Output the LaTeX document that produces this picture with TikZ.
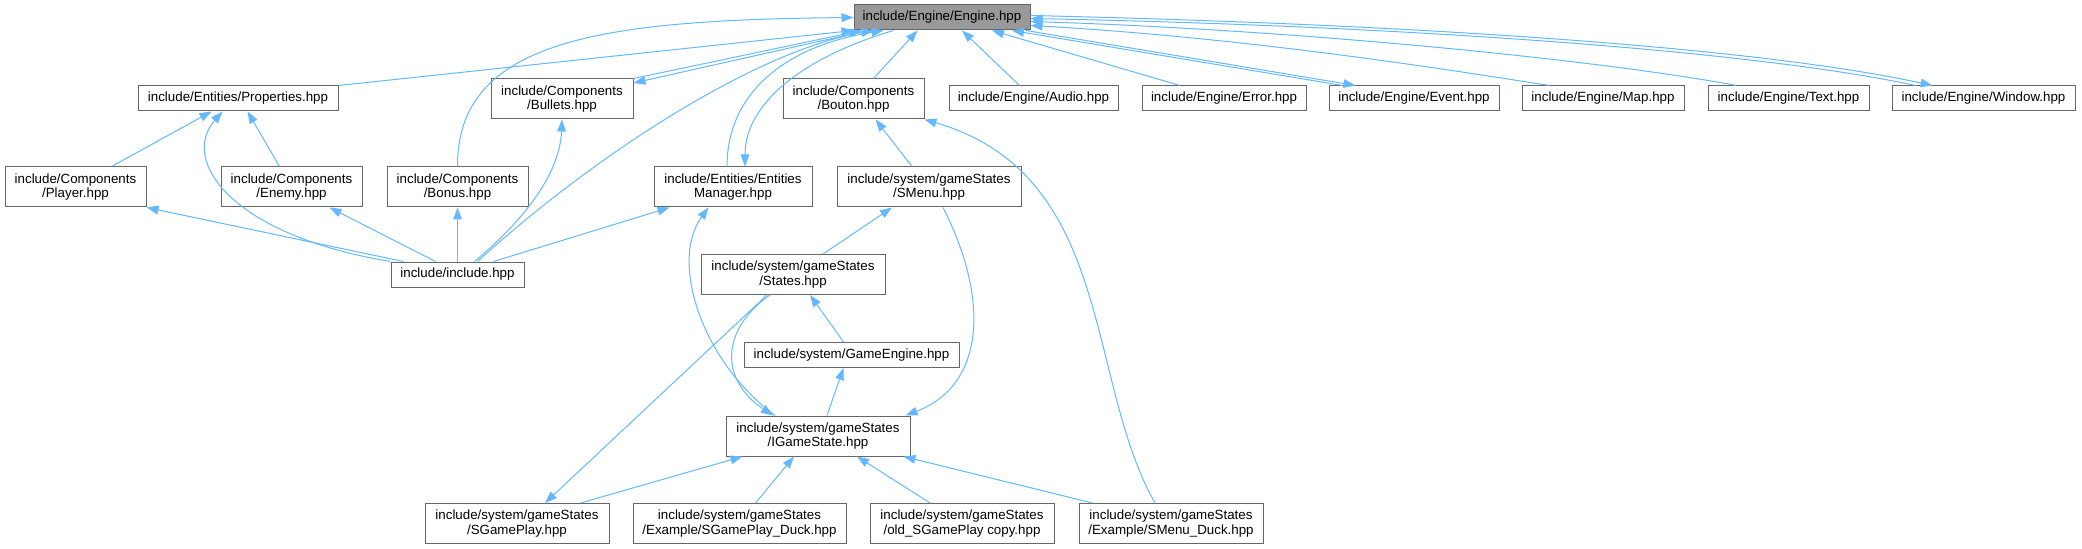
\documentclass[tikz,border=0pt]{standalone}
\usepackage{fontspec}
\setmainfont{Liberation Sans}
\usetikzlibrary{arrows.meta,calc}
\definecolor{edgeblue}{HTML}{63B8FF}
\definecolor{boxgray}{HTML}{666666}
\definecolor{rootfill}{HTML}{999999}

\begin{document}
\begin{tikzpicture}[x=0.75pt, y=-0.75pt, >={Triangle[length=9pt,width=6.5pt]},
    every node/.style={font=\fontsize{10}{11}\selectfont},
    file/.style={draw=boxgray, line width=0.75pt, fill=white, inner sep=0pt, align=center, minimum height=18.75pt},
    twoline/.style={minimum height=30pt},
    root/.style={file, fill=rootfill},
    dep/.style={draw=edgeblue, line width=0.75pt, ->}]
    \useasboundingbox (0,0) rectangle (2082,549);

    \node[root, minimum width=132pt] (engine) at (942,17.5) {include/Engine/Engine.hpp};

    \node[file, minimum width=150pt] (props) at (238,98.5) {include/Entities/Properties.hpp};
    \node[file, twoline, minimum width=106.5pt] (bullets) at (562,99) {include/Components\\/Bullets.hpp};
    \node[file, twoline, minimum width=105.75pt] (bouton) at (853.5,99) {include/Components\\/Bouton.hpp};
    \node[file, minimum width=126.75pt] (audio) at (1033.5,98.5) {include/Engine/Audio.hpp};
    \node[file, minimum width=123pt] (error) at (1224,98.5) {include/Engine/Error.hpp};
    \node[file, minimum width=127.5pt] (event) at (1414,98.5) {include/Engine/Event.hpp};
    \node[file, minimum width=121.5pt] (map) at (1603,98.5) {include/Engine/Map.hpp};
    \node[file, minimum width=120.75pt] (text) at (1788.5,98.5) {include/Engine/Text.hpp};
    \node[file, minimum width=137.25pt] (window) at (1983.5,98.5) {include/Engine/Window.hpp};

    \node[file, twoline, minimum width=105.75pt] (player) at (75.5,187) {include/Components\\/Player.hpp};
    \node[file, twoline, minimum width=105.75pt] (enemy) at (291.5,187) {include/Components\\/Enemy.hpp};
    \node[file, twoline, minimum width=105.75pt] (bonus) at (457.5,187) {include/Components\\/Bonus.hpp};
    \node[file, twoline, minimum width=118.5pt] (entman) at (733,187) {include/Entities/Entities\\Manager.hpp};
    \node[file, twoline, minimum width=138pt] (smenu) at (929,187) {include/system/gameStates\\/SMenu.hpp};

    \node[file, minimum width=99.75pt] (incl) at (457.5,274.5) {include/include.hpp};
    \node[file, twoline, minimum width=138pt] (states) at (793,274.5) {include/system/gameStates\\/States.hpp};
    \node[file, minimum width=161.25pt] (geng) at (851.5,355) {include/system/GameEngine.hpp};
    \node[file, twoline, minimum width=138pt] (igs) at (818,436) {include/system/gameStates\\/IGameState.hpp};

    \node[file, twoline, minimum width=138pt] (sgp) at (517,523.5) {include/system/gameStates\\/SGamePlay.hpp};
    \node[file, twoline, minimum width=159.75pt] (sgpd) at (739.5,523.5) {include/system/gameStates\\/Example/SGamePlay\_Duck.hpp};
    \node[file, twoline, minimum width=138pt] (old) at (962,523.5) {include/system/gameStates\\/old\_SGamePlay copy.hpp};
    \node[file, twoline, minimum width=138pt] (smd) at (1171,523.5) {include/system/gameStates\\/Example/SMenu\_Duck.hpp};

    % links into Engine.hpp
    \draw[dep] (props.north east) -- (engine.south west);
    \draw[dep] (bonus.north) .. controls (457,40) and (600,20) .. (engine.west);
    \draw[dep] (bullets.north east) -- ($(engine.south west)+(8,0)$);
    \draw[dep] ($(engine.south west)+(14,0)$) -- ($(bullets.east)+(0,-16)$);
    \draw[dep] ($(incl.north)+(20,0)$) .. controls (600,150) and (760,50) .. ($(engine.south west)+(20,0)$);
    \draw[dep] ($(entman.north)+(-6,0)$) .. controls (727,90) and (790,45) .. ($(engine.south west)+(30,0)$);
    \draw[dep] ($(engine.south west)+(40,0)$) .. controls (810,55) and (745,100) .. ($(entman.north)+(12,0)$);
    \draw[dep] ($(bouton.north)+(20,0)$) -- ($(engine.south west)+(64,0)$);
    \draw[dep] ($(audio.north)+(-14,0)$) -- ($(engine.south)+(20,0)$);
    \draw[dep] ($(error.north)+(-44,0)$) -- ($(engine.south)+(50,0)$);
    \draw[dep] ($(event.north west)+(14,0)$) -- ($(engine.south)+(70,0)$);
    \draw[dep] ($(engine.south)+(84,0)$) -- ($(event.north west)+(27,0)$);
    \draw[dep] ($(map.north west)+(28,0)$) .. controls (1450,70) and (1250,38) .. ($(engine.east)+(0,8)$);
    \draw[dep] ($(text.north west)+(29,0)$) .. controls (1600,60) and (1300,30) .. ($(engine.east)+(0,4)$);
    \draw[dep] ($(window.north west)+(24,0)$) .. controls (1750,50) and (1400,26) .. ($(engine.east)+(0,1)$);
    \draw[dep] ($(engine.east)+(0,-2)$) .. controls (1400,24) and (1750,46) .. ($(window.north west)+(41,0)$);

    % components and include.hpp
    \draw[dep] ($(player.north)+(36,0)$) -- ($(props.south west)+(74,0)$);
    \draw[dep] ($(enemy.north)+(-12,0)$) -- ($(props.south west)+(110,0)$);
    \draw[dep] (incl.north west) .. controls (230,235) and (180,160) .. ($(props.south west)+(85,0)$);
    \draw[dep] ($(incl.north west)+(13,0)$) -- (player.south east);
    \draw[dep] ($(incl.north)+(-22,0)$) -- ($(enemy.south)+(38,0)$);
    \draw[dep] (incl.north) -- (bonus.south);
    \draw[dep] ($(incl.north)+(17,0)$) .. controls (530,215) and (560,170) .. (bullets.south);
    \draw[dep] ($(incl.north)+(36,0)$) -- ($(entman.south west)+(16,0)$);

    % game states
    \draw[dep] ($(smenu.north)+(-17,0)$) -- ($(bouton.south)+(22,0)$);
    \draw[dep] ($(smd.north)+(-16,0)$) .. controls (1085,380) and (1115,175) .. (bouton.south east);
    \draw[dep] ($(states.north)+(30,0)$) -- ($(smenu.south)+(-37,0)$);
    \draw[dep] ($(smenu.south)+(14,0)$) .. controls (990,300) and (985,385) .. ($(igs.north east)+(-5,0)$);
    \draw[dep] ($(geng.north)+(-8,0)$) -- ($(states.south)+(17,0)$);
    \draw[dep] ($(igs.north)+(9,0)$) -- ($(geng.south)+(-8,0)$);
    \draw[dep] ($(states.south)+(-23,0)$) .. controls (720,330) and (720,380) .. ($(igs.north)+(-45,0)$);
    \draw[dep] ($(igs.north)+(-43,0)$) .. controls (700,360) and (670,260) .. ($(entman.south west)+(55,0)$);
    \draw[dep] ($(states.south)+(-26,0)$) -- ($(sgp.north)+(28,0)$);
    \draw[dep] ($(sgp.north east)+(-29,0)$) -- ($(igs.south west)+(17,0)$);
    \draw[dep] ($(sgpd.north)+(16,0)$) -- ($(igs.south)+(-24,0)$);
    \draw[dep] ($(old.north)+(-32,0)$) -- ($(igs.south)+(39,0)$);
    \draw[dep] ($(smd.north west)+(14,0)$) -- ($(igs.south east)+(-7,0)$);
\end{tikzpicture}
\end{document}
